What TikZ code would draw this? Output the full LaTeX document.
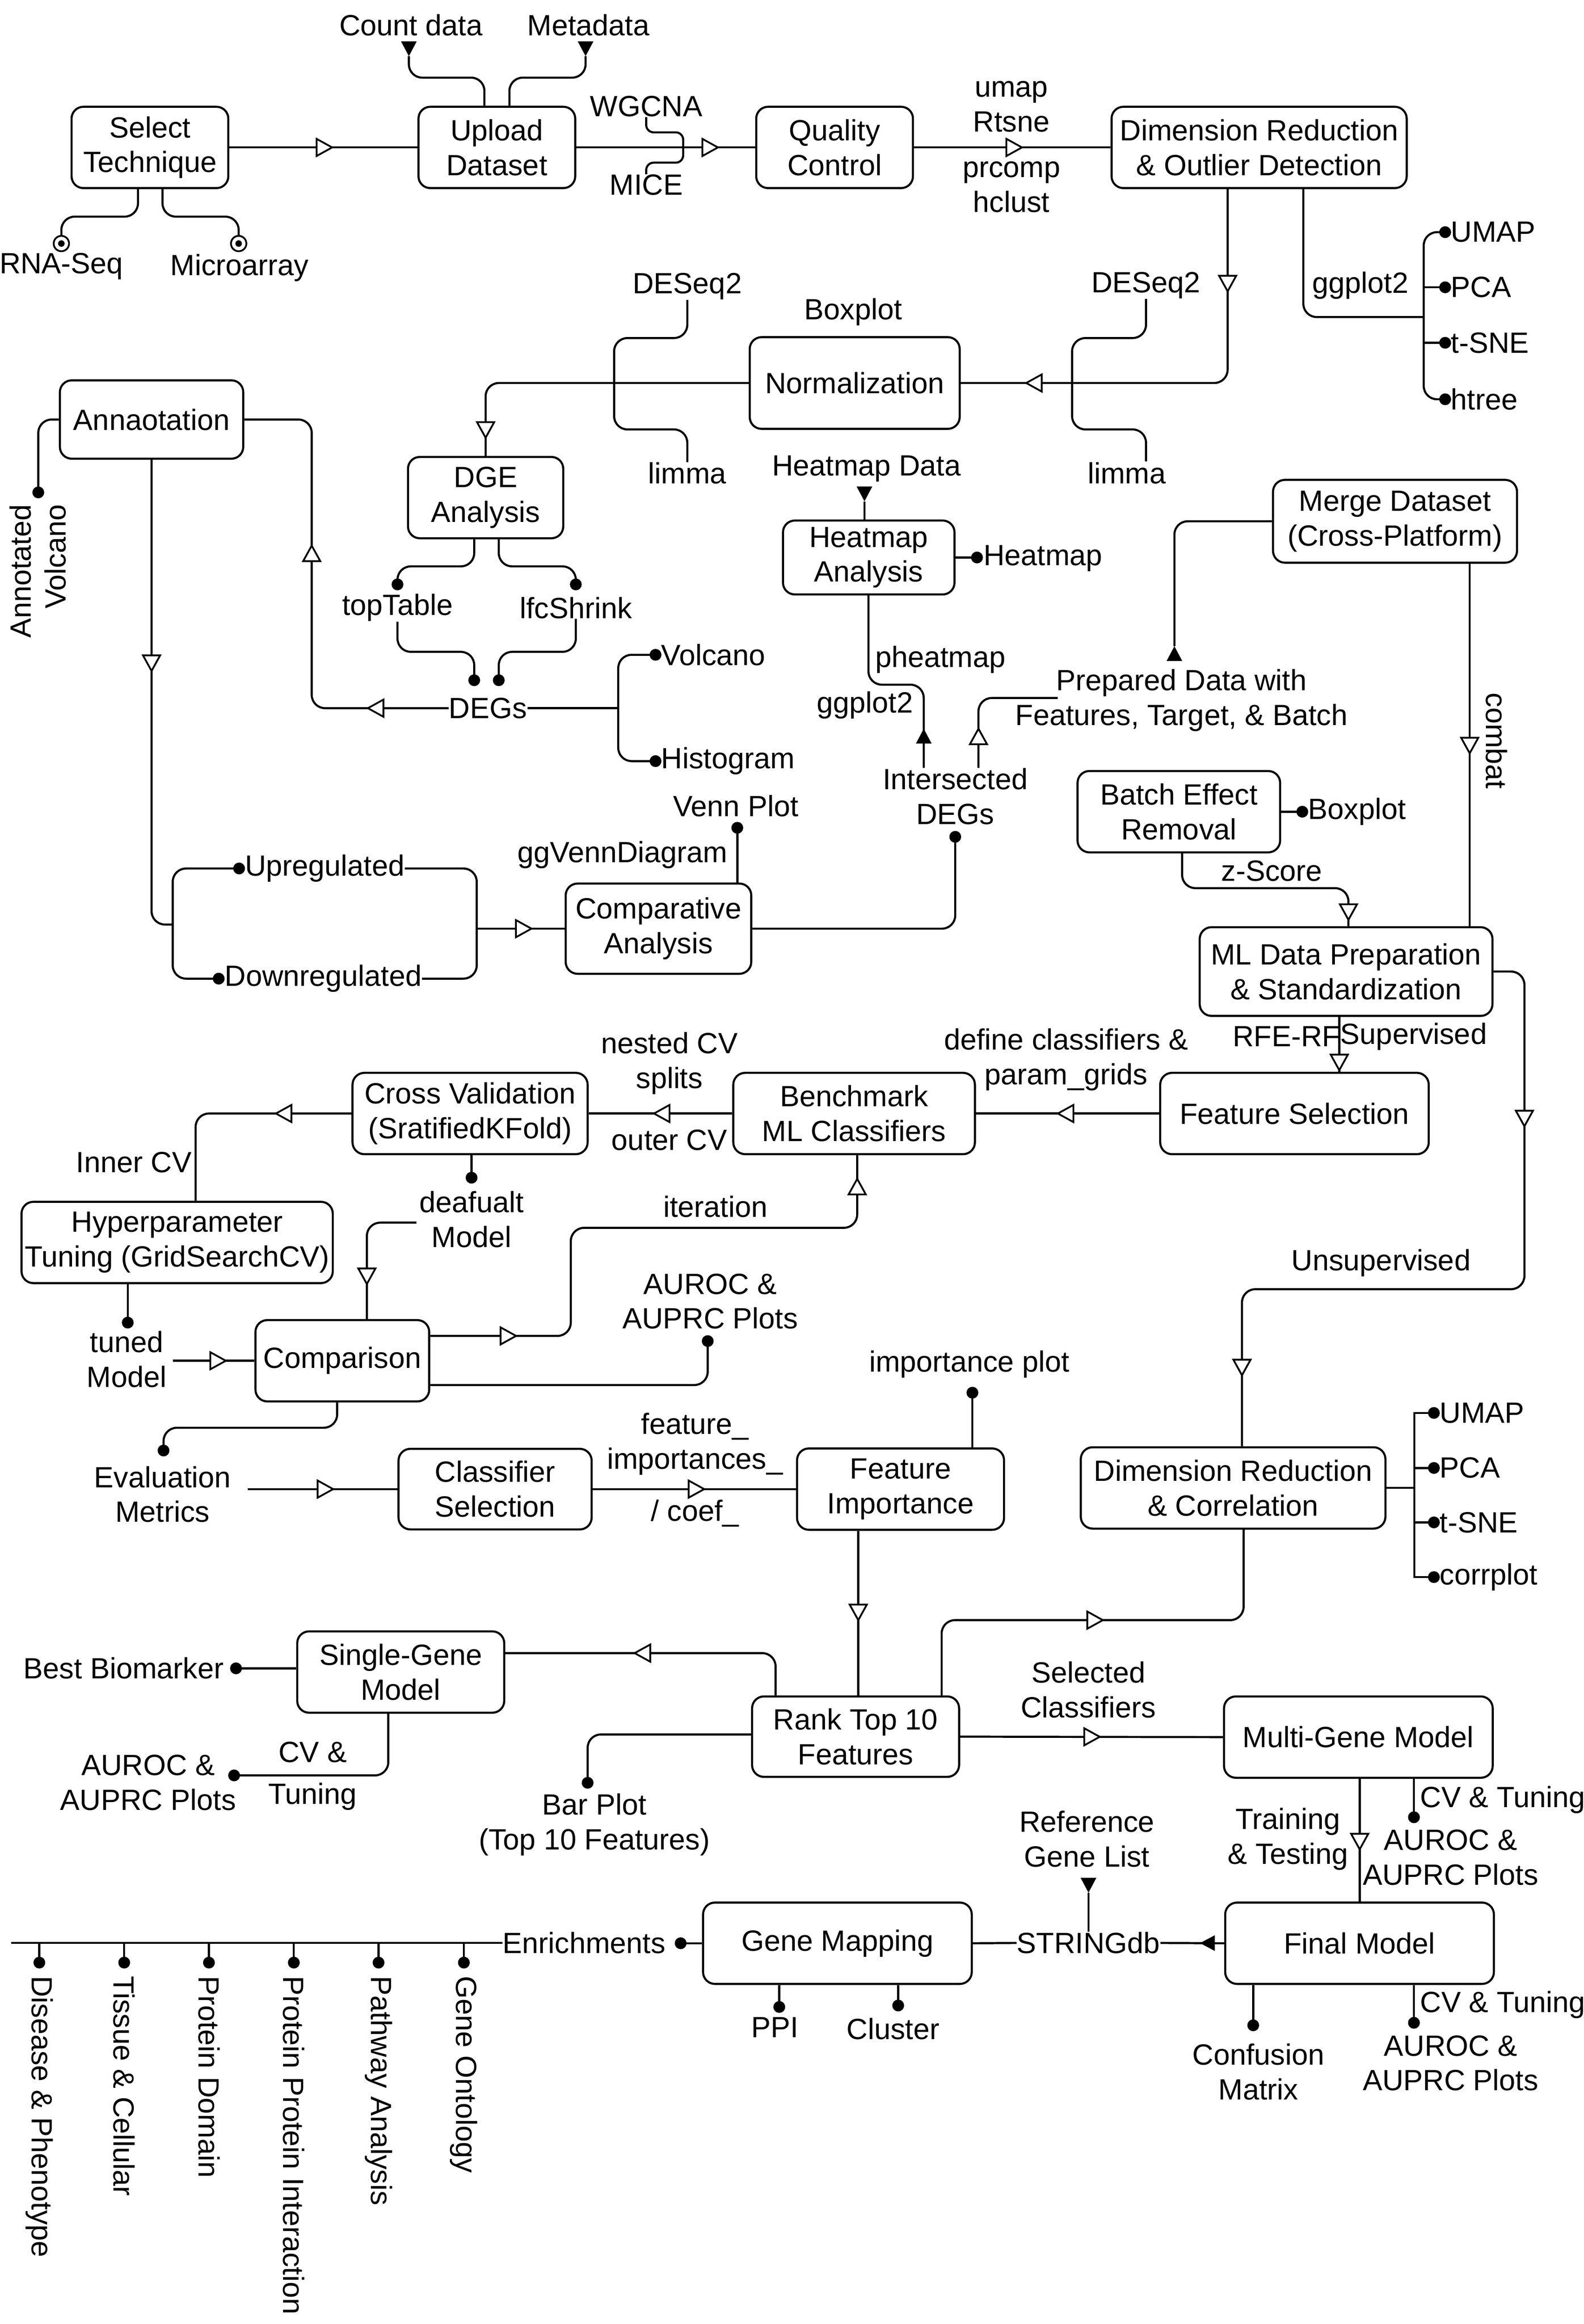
\documentclass[tikz,border=0pt]{standalone}
\usepackage{fontspec}
\setmainfont{Liberation Sans}
\usetikzlibrary{calc}
\newcommand\myfnt{\fontsize{19.8}{23.5}\selectfont}
\newcommand\tdot[1]{\fill #1 circle[radius=4pt];}
\newcommand\circdotat[1]{\draw[line width=1.2pt,fill=white] #1 circle[radius=5.2pt]; \fill #1 circle[radius=2.2pt];}
\tikzset{
  otri/.pic={\draw[line width=1.2pt,fill=white,line join=miter,sharp corners] (0,0) -- (-10.5,5.8) -- (-10.5,-5.8) -- cycle;},
  ftri/.pic={\fill[sharp corners] (0,0) -- (-10,5.3) -- (-10,-5.3) -- cycle;},
  box/.style={draw,line width=1.4pt,rounded corners=8pt,align=center,inner sep=0pt,font=\myfnt},
  bx/.style n args={2}{box,minimum width=#1pt,minimum height=#2pt},
  lbl/.style={inner sep=0pt,align=center,font=\myfnt},
  con/.style={line width=1.4pt,rounded corners=9pt},
  lw/.style={line width=1.4pt},
}
\begin{document}
\begin{tikzpicture}[x=1pt,y=-1pt]
\fill[white] (0,0) rectangle (1071,1571.6);
\useasboundingbox (0,0) rectangle (1071,1571.6);

% ---------------- boxes ----------------
\node[bx={106}{55}] (sel) at (101.4,99.7) {Select\\Technique};
\node[bx={106}{55}] (upl) at (336,99.7) {Upload\\Dataset};
\node[bx={106}{55}] (qc) at (564.4,99.7) {Quality\\Control};
\node[bx={199.6}{55}] (dr) at (851.5,99.7) {Dimension Reduction\\\& Outlier Detection};
\node[bx={142}{62}] (norm) at (578,259) {Normalization};
\node[bx={124}{53}] (ann) at (102.5,283.7) {Annaotation};
\node[bx={105}{55}] (dge) at (328.4,336.5) {DGE\\Analysis};
\node[bx={116}{50}] (hm) at (587.5,377) {Heatmap\\Analysis};
\node[bx={165}{56}] (merge) at (943.4,352.5) {Merge Dataset\\(Cross-Platform)};
\node[bx={125.5}{61}] (comp) at (445.3,628) {Comparative\\Analysis};
\node[bx={137}{55}] (batch) at (797.2,548.9) {Batch Effect\\Removal};
\node[bx={198}{60}] (mlp) at (910.3,657) {ML Data Preparation\\\& Standardization};
\node[bx={181.6}{55}] (fs) at (875.4,753) {Feature Selection};
\node[bx={163.4}{55}] (bench) at (577.6,753) {Benchmark\\ML Classifiers};
\node[bx={159}{55}] (cv) at (317.9,753) {Cross Validation\\(SratifiedKFold)};
\node[bx={210.5}{55}] (hyp) at (119.8,840.2) {Hyperparameter\\Tuning (GridSearchCV)};
\node[bx={117.5}{55}] (cmp) at (231.5,920.2) {Comparison};
\node[bx={130.6}{54.5}] (cls) at (334.8,1007) {Classifier\\Selection};
\node[bx={140}{55}] (fi) at (609,1007) {Feature\\Importance};
\node[bx={206}{55}] (drc) at (833.9,1006.2) {Dimension Reduction\\\& Correlation};
\node[bx={140}{54.4}] (rank) at (578.6,1174.4) {Rank Top 10\\Features};
\node[bx={140}{55}] (sg) at (271,1130.7) {Single-Gene\\Model};
\node[bx={181.7}{55}] (mg) at (918.6,1174.7) {Multi-Gene Model};
\node[bx={181.7}{55}] (fin) at (919.4,1314.1) {Final Model};
\node[bx={181.7}{55}] (gm) at (566.3,1314.1) {Gene Mapping};

% ---------------- labels ----------------
\node[lbl] (cnt) at (278,17) {Count data};
\node[lbl] (meta) at (398,17) {Metadata};
\node[lbl] (rna) at (41.5,180) {RNA-Seq};
\node[lbl] (micro) at (162,181) {Microarray};
\node[lbl] (wgcna) at (437,72) {WGCNA};
\node[lbl] (mice) at (437,125) {MICE};
\node[lbl] (umapt) at (684,72) {umap\\Rtsne};
\node[lbl] (prc) at (684,126.5) {prcomp\\hclust};
\node[lbl] (gg1) at (920,193) {ggplot2};
\node[lbl,anchor=west] (umap1) at (981,157) {UMAP};
\node[lbl,anchor=west] (pca1) at (981,194.3) {PCA};
\node[lbl,anchor=west] (tsne1) at (981,231.8) {t-SNE};
\node[lbl,anchor=west] (htree) at (981,270) {htree};
\node[lbl] (deseqL) at (464.8,193.7) {DESeq2};
\node[lbl] (limmaL) at (464.8,320) {limma};
\node[lbl] (deseqR) at (775,193) {DESeq2};
\node[lbl] (limmaR) at (762,320) {limma};
\node[lbl] (boxp1) at (577,211) {Boxplot};
\node[lbl] (hmdata) at (586,317) {Heatmap Data};
\node[lbl,anchor=west] (hmlbl) at (665,377.7) {Heatmap};
\node[lbl,rotate=90,anchor=east,align=right] (annvol) at (25.5,341) {Annotated\\Volcano};
\node[lbl] (toptab) at (268.8,411) {topTable};
\node[lbl] (lfc) at (389.4,411) {lfcShrink};
\node[lbl] (degs) at (330,478.9) {DEGs};
\node[lbl,anchor=west] (volc) at (447,442.8) {Volcano};
\node[lbl,anchor=west] (hist) at (447,514.7) {Histogram};
\node[lbl] (phm) at (636,446) {pheatmap};
\node[lbl] (gg2) at (585,477) {ggplot2};
\node[lbl] (prep) at (799,473.5) {Prepared Data with\\Features, Target, \& Batch};
\node[lbl] (intdeg) at (646,538.5) {Intersected\\DEGs};
\node[lbl,rotate=-90] (combat) at (1012,501) {combat};
\node[lbl,anchor=west] (boxp2) at (884.5,548.9) {Boxplot};
\node[lbl] (zsc) at (860,589) {z-Score};
\node[lbl] (venn) at (497.6,545) {Venn Plot};
\node[lbl] (ggv) at (421,578) {ggVennDiagram};
\node[lbl,anchor=west] (upreg) at (165.5,587.3) {Upregulated};
\node[lbl,anchor=west] (downreg) at (151.8,661.8) {Downregulated};
\node[lbl] (rfe) at (870,701) {RFE-RF};
\node[lbl] (sup) at (956,701) {Supervised};
\node[lbl] (defcl) at (721,716.5) {define classifiers \&\\param\_grids};
\node[lbl] (nested) at (452.7,719) {nested CV\\splits};
\node[lbl] (outer) at (452.7,771) {outer CV};
\node[lbl] (inner) at (90.5,786) {Inner CV};
\node[lbl] (defm) at (318.9,824.5) {deafualt\\Model};
\node[lbl] (iter) at (483.8,816) {iteration};
\node[lbl] (auroc1) at (480.3,880) {AUROC \&\\AUPRC Plots};
\node[lbl] (tuned) at (85.7,919.3) {tuned\\Model};
\node[lbl] (evalm) at (109.9,1010.5) {Evaluation\\Metrics};
\node[lbl] (featimp) at (470,976.5) {feature\_\\importances\_};
\node[lbl] (coef) at (470,1023.5) {/ coef\_};
\node[lbl] (unsup) at (934,854) {Unsupervised};
\node[lbl] (impplot) at (655.5,922.5) {importance plot};
\node[lbl,anchor=west] (umap2) at (973.5,955.5) {UMAP};
\node[lbl,anchor=west] (pca2) at (973.5,992.7) {PCA};
\node[lbl,anchor=west] (tsne2) at (973.5,1029.5) {t-SNE};
\node[lbl,anchor=west] (corr) at (973.5,1066.5) {corrplot};
\node[lbl,anchor=east] (bestbio) at (151.5,1128.2) {Best Biomarker};
\node[lbl] (cvt1) at (211.5,1184.9) {CV \&};
\node[lbl] (tun1) at (211.5,1214.9) {Tuning};
\node[lbl] (auroc2) at (100.2,1205.5) {AUROC \&\\AUPRC Plots};
\node[lbl] (barplot) at (402,1234) {Bar Plot\\(Top 10 Features)};
\node[lbl] (selcl) at (736,1142.7) {Selected\\Classifiers};
\node[lbl] (train) at (871,1243.6) {Training\\\& Testing};
\node[lbl,anchor=west] (cvt2) at (960.3,1217.2) {CV \& Tuning};
\node[lbl] (auroc3) at (981,1256) {AUROC \&\\AUPRC Plots};
\node[lbl] (refgl) at (735,1243.6) {Reference\\Gene List};
\node[lbl] (string) at (736.1,1313.9) {STRINGdb};
\node[lbl] (enrich) at (395,1313.9) {Enrichments};
\node[lbl] (ppi) at (524,1371) {PPI};
\node[lbl] (clus) at (604,1372) {Cluster};
\node[lbl] (confm) at (851,1401) {Confusion\\Matrix};
\node[lbl,anchor=west] (cvt3) at (960.3,1355.6) {CV \& Tuning};
\node[lbl] (auroc4) at (981,1395.2) {AUROC \&\\AUPRC Plots};
\node[lbl,rotate=-90,anchor=west] (e1) at (26.6,1336) {Disease \& Phenotype};
\node[lbl,rotate=-90,anchor=west] (e2) at (84,1336) {Tissue \& Cellular};
\node[lbl,rotate=-90,anchor=west] (e3) at (141.3,1336) {Protein Domain};
\node[lbl,rotate=-90,anchor=west] (e4) at (198.7,1336) {Protein Protein Interaction};
\node[lbl,rotate=-90,anchor=west] (e5) at (256,1336) {Pathway Analysis};
\node[lbl,rotate=-90,anchor=west] (e6) at (313.7,1336) {Gene Ontology};

% ---------------- connectors ----------------
% top row
\pic[rotate=-90] at (276.5,38) {ftri};
\draw[con] (276.5,38) |- (327.6,52.5) -- (327.6,0 |- upl.north);
\pic[rotate=-90] at (396,38) {ftri};
\draw[con] (396,38) |- (344.5,52.5) -- (344.5,0 |- upl.north);
\draw[con] (sel.east) -- (upl.west); \pic at (224.6,99.7) {otri};
\draw[con] (93.3,0 |- sel.south) |- (41.5,146.5) -- (41.5,159.5); \circdotat{(41.5,164.7)}
\draw[con] (109.9,0 |- sel.south) |- (161.4,146.5) -- (161.4,159.5); \circdotat{(161.4,164.7)}
\draw[con] (upl.east) -- (qc.west);
\draw[con,rounded corners=5pt] (wgcna.south) |- (462,89.5) |- (437,110) -- (mice.north);
\pic at (485.5,99.7) {otri};
\draw[con] (qc.east) -- (dr.west); \pic at (691.1,99.7) {otri};

% DR -> normalization, ggplot2 fan
\draw[con] (830.2,0 |- dr.south) |- (norm.east);
\pic[rotate=-90] at (830.2,197) {otri};
\pic[rotate=180] at (694,259) {otri};
\draw[con] (881.4,0 |- dr.south) |- (962.8,214.4);
\draw[con] (977.3,157) -- (962.8,157) -- (962.8,270) -- (977.3,270);
\draw[lw] (962.8,194.3) -- (977.3,194.3) (962.8,231.8) -- (977.3,231.8);
\tdot{(977.3,157)} \tdot{(977.3,194.3)} \tdot{(977.3,231.8)} \tdot{(977.3,270)}

% DESeq2 / limma brackets
\draw[con] (deseqL.south) |- (415.3,228.6) |- (464.8,290.4) -- (limmaL.north);
\draw[con] (deseqR.south) |- (725,228.6) |- (775,290.4) -- (775,312);

% normalization -> DGE
\draw[con] (norm.west) -| (dge.north); \pic[rotate=-90] at (328.4,296) {otri};

% annotation
\draw[con] (ann.west) -| (25.9,333); \tdot{(25.9,333)}
\draw[con] (ann.south) |- (116.8,625.2); \pic[rotate=-90] at (102.5,453.7) {otri};
\draw[con] (degs.west) -| (210.8,283.7) -- (ann.east);
\pic[rotate=180] at (248.8,478.9) {otri}; \pic[rotate=90] at (210.8,369) {otri};

% DEGs
\draw[con] (degs.east) -- (418.1,478.9);
\draw[con] (443.3,442.8) -- (418.1,442.8) -- (418.1,514.7) -- (443.3,514.7);
\tdot{(443.3,442.8)} \tdot{(443.3,514.7)}
\draw[con] (320.7,0 |- dge.south) |- (268.8,383) -- (268.8,395.2); \tdot{(268.8,395.2)}
\draw[con] (337.3,0 |- dge.south) |- (389.4,383) -- (389.4,395.2); \tdot{(389.4,395.2)}
\draw[con] (toptab.south) |- (320.7,440.8) -- (320.7,460); \tdot{(320.7,460)}
\draw[con] (lfc.south) |- (337.3,440.8) -- (337.3,460); \tdot{(337.3,460)}

% up / down regulated
\draw[con] (161.7,587.3) -- (116.8,587.3) -- (116.8,661.8) -- (147.9,661.8);
\tdot{(161.7,587.3)} \tdot{(147.9,661.8)}
\draw[con] (upreg.east) -- (322.4,587.3) -- (322.4,661.8) -- (downreg.east);
\draw[con] (322.4,628) -- (comp.west); \pic at (359.4,628) {otri};

% comparative analysis
\draw[con] (498.6,0 |- comp.north) -- (498.6,559.8); \tdot{(498.6,559.8)}
\draw[con] (comp.east) -| (646,565.9); \tdot{(646,565.9)}

% intersected DEGs
\draw[con] (624.7,0 |- intdeg.north) |- (587.3,463) -- (587.3,0 |- hm.south);
\pic[rotate=90] at (624.7,492.8) {ftri};
\draw[con] (661.7,0 |- intdeg.north) |- (715.3,472);
\pic[rotate=90] at (661.7,492.8) {otri};

% heatmap
\pic[rotate=-90] at (584.6,339) {ftri};
\draw[con] (584.6,339) -- (584.6,0 |- hm.north);
\draw[con] (hm.east) -- (660.7,377); \tdot{(660.7,377)}

% merge
\draw[con] (merge.west) -| (794.2,437); \pic[rotate=90] at (794.2,437) {ftri};
\draw[con] (993.9,0 |- merge.south) -- (993.9,0 |- mlp.north);
\pic[rotate=-90] at (993.9,509.4) {otri};

% batch
\draw[con] (batch.east) -- (880.7,548.9); \tdot{(880.7,548.9)}
\draw[con] (799.4,0 |- batch.south) |- (911.9,600.6) -- (911.9,0 |- mlp.north);
\pic[rotate=-90] at (911.9,622) {otri};

% ML prep
\draw[con] (mlp.east) -| (1030.9,871.8) -| (839.9,0 |- drc.north);
\pic[rotate=-90] at (1030.9,761.6) {otri}; \pic[rotate=-90] at (839.9,930) {otri};
\draw[con] (905.7,0 |- mlp.south) -- (905.7,0 |- fs.north);
\pic[rotate=-90] at (905.7,723.7) {otri};

% feature selection -> benchmark -> CV -> hyper
\draw[con] (fs.west) -- (bench.east); \pic[rotate=180] at (715.4,753) {otri};
\draw[con] (bench.west) -- (cv.east); \pic[rotate=180] at (442.3,753) {otri};
\draw[con] (cv.west) -| (132.3,0 |- hyp.north); \pic[rotate=180] at (186.6,753) {otri};
\draw[con] (86.4,0 |- hyp.south) -- (86.4,894.4); \tdot{(86.4,894.4)}
\draw[con] (116.8,0 |- cmp.west) -- (cmp.west); \pic at (152.7,920.2) {otri};
\draw[con] (318.9,0 |- cv.south) -- (318.9,796.4); \tdot{(318.9,796.4)}
\draw[con] (281.6,826.8) -| (248.1,0 |- cmp.north); \pic[rotate=-90] at (248.1,868.3) {otri};

% comparison outputs
\draw[con] (cmp.east |- 0,903.4) -| (386,830.3) -| (579.7,0 |- bench.south);
\pic at (349,903.4) {otri}; \pic[rotate=90] at (579.7,797.2) {otri};
\draw[con] (cmp.east |- 0,936.6) -| (478.6,906.9); \tdot{(478.6,906.9)}
\draw[con] (228,0 |- cmp.south) |- (110.6,965.5) -- (110.6,980.9); \tdot{(110.6,980.9)}

% evaluation -> classifier -> feature importance
\draw[con] (167.6,0 |- cls.west) -- (cls.west); \pic at (225.3,1007) {otri};
\draw[con] (cls.east) -- (fi.west); \pic at (476.2,1007) {otri};
\draw[con] (657.6,0 |- fi.north) -- (657.6,941.8); \tdot{(657.6,941.8)}

% DR & correlation fan
\draw[con] (drc.east) -- (956.5,0 |- drc.east);
\draw[lw] (969.7,955.5) -- (956.5,955.5) -- (956.5,1066.5) -- (969.7,1066.5);
\draw[lw] (956.5,992.7) -- (969.7,992.7) (956.5,1029.5) -- (969.7,1029.5);
\tdot{(969.7,955.5)} \tdot{(969.7,992.7)} \tdot{(969.7,1029.5)} \tdot{(969.7,1066.5)}

% to rank
\draw[con] (580.4,0 |- fi.south) -- (580.4,0 |- rank.north); \pic[rotate=-90] at (580.4,1095.6) {otri};
\draw[con] (841,0 |- drc.south) |- (636.8,1095.6) -- (636.8,0 |- rank.north); \pic at (745.8,1095.6) {otri};

% rank outputs
\draw[con] (524.5,0 |- rank.north) |- (sg.east |- 0,1117.9); \pic[rotate=180] at (429.2,1117.9) {otri};
\draw[con] (sg.west |- 0,1128.2) -- (159.6,1128.2); \tdot{(159.6,1128.2)}
\draw[con] (262.6,0 |- sg.south) |- (158.3,1200.6); \tdot{(158.3,1200.6)}
\draw[con] (rank.west |- 0,1172.9) -| (397.4,1205.6); \tdot{(397.4,1205.6)}
\draw[con] (rank.east) -- (mg.west); \pic at (743.7,1174.5) {otri};

% multi-gene / final
\draw[con] (919.5,0 |- mg.south) -- (919.5,0 |- fin.north); \pic[rotate=-90] at (919.5,1250.6) {otri};
\draw[con] (956.2,0 |- mg.south) -- (956.2,1228.9); \tdot{(956.2,1228.9)}
\draw[con] (fin.west) -- (string.east); \pic[rotate=180] at (811.5,1314) {ftri};
\pic[rotate=-90] at (736.1,1279.9) {ftri};
\draw[con] (736.1,1279.9) -- (string.north);
\draw[con] (string.west) -- (gm.east);
\draw[con] (847.5,0 |- fin.south) -- (847.5,1369.6); \tdot{(847.5,1369.6)}
\draw[con] (956.2,0 |- fin.south) -- (956.2,1367.9); \tdot{(956.2,1367.9)}

% gene mapping
\draw[con] (527,0 |- gm.south) -- (527,1357.2); \tdot{(527,1357.2)}
\draw[con] (607.4,0 |- gm.south) -- (607.4,1356.2); \tdot{(607.4,1356.2)}
\draw[con] (gm.west) -- (460.3,1314.1); \tdot{(460.3,1314.1)}

% enrichments
\draw[lw] (enrich.west) -- (7.6,0 |- enrich.west);
\foreach \xx in {26.6,84,141.3,198.7,256,313.7}{
  \draw[lw] (\xx,1313.9) -- (\xx,1327.2); \tdot{(\xx,1327.2)}
}
\end{tikzpicture}
\end{document}
